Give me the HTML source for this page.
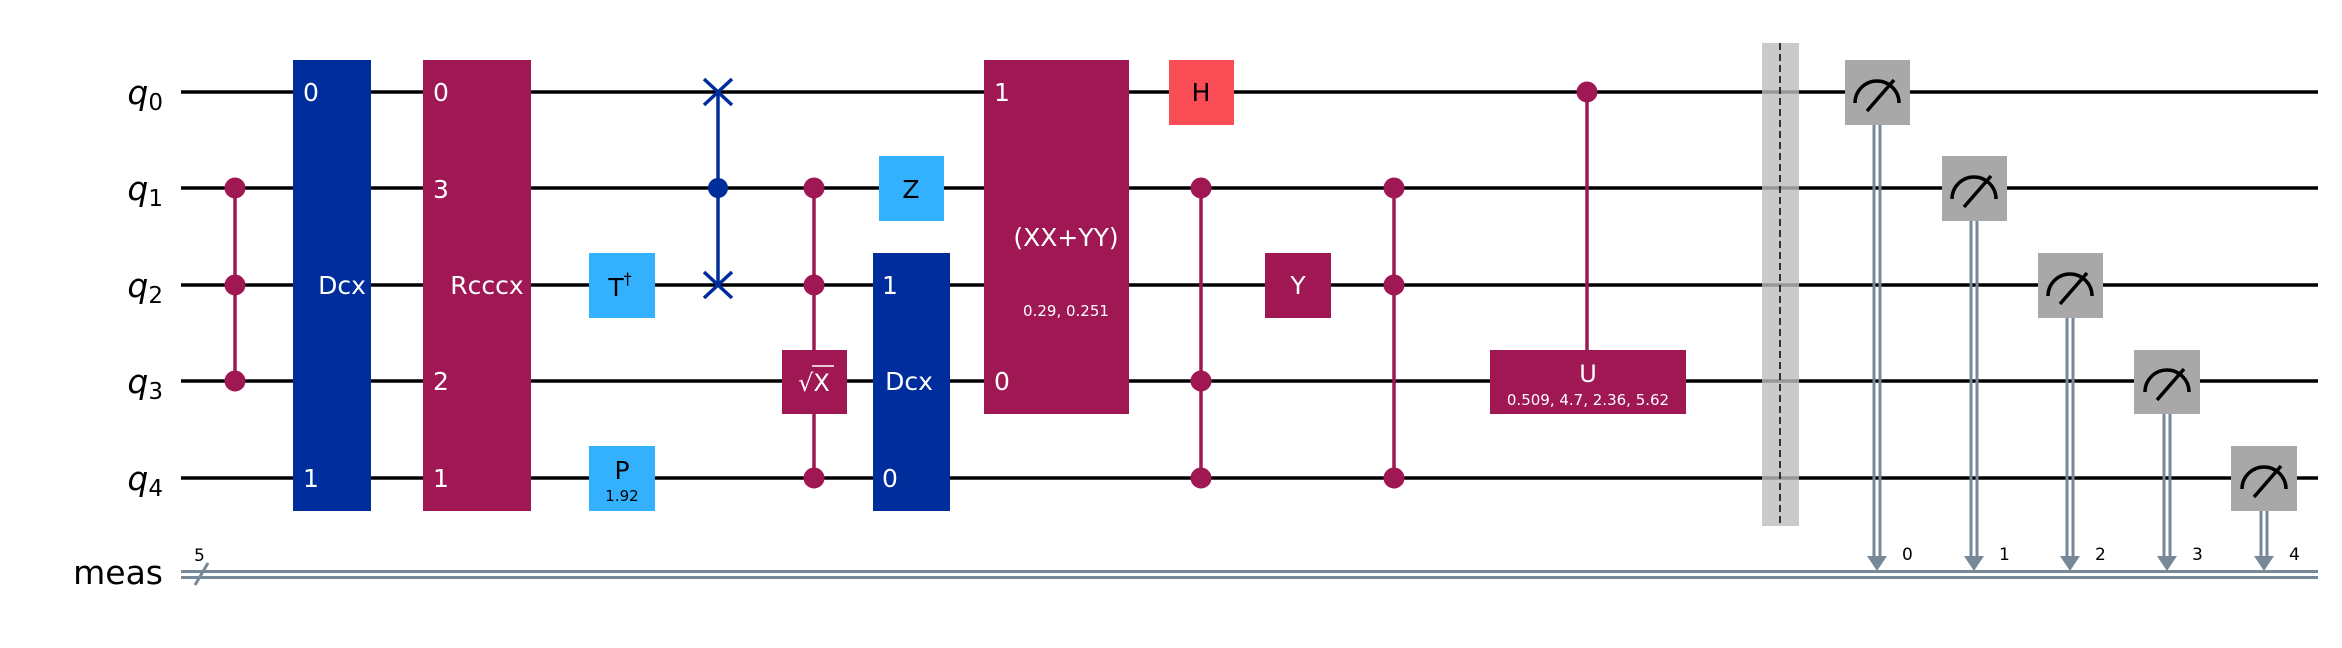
<!DOCTYPE html>
<html><head><meta charset="utf-8"><style>
html,body{margin:0;padding:0;background:#fff;}
svg{display:block;}
text{font-family:"DejaVu Sans","Liberation Sans",sans-serif;}
</style></head><body>
<svg width="2342" height="648" viewBox="0 0 2342 648" xmlns="http://www.w3.org/2000/svg">
<rect width="2342" height="648" fill="#fff"/>
<g stroke="#000" stroke-width="3.5">
<line x1="181" y1="92" x2="2318" y2="92"/>
<line x1="181" y1="188" x2="2318" y2="188"/>
<line x1="181" y1="285" x2="2318" y2="285"/>
<line x1="181" y1="381" x2="2318" y2="381"/>
<line x1="181" y1="478" x2="2318" y2="478"/>
</g>
<g stroke="#778899" stroke-width="3">
<line x1="181" y1="571.5" x2="2318" y2="571.5"/>
<line x1="181" y1="577.5" x2="2318" y2="577.5"/>
<line x1="195" y1="585" x2="208" y2="563"/>
</g>
<text x="194" y="561" font-size="17">5</text>
<g font-size="33" text-anchor="end">
<text x="163" y="104" font-style="italic">q<tspan font-size="23" font-style="normal" dy="6">0</tspan></text>
<text x="163" y="200" font-style="italic">q<tspan font-size="23" font-style="normal" dy="6">1</tspan></text>
<text x="163" y="297" font-style="italic">q<tspan font-size="23" font-style="normal" dy="6">2</tspan></text>
<text x="163" y="393" font-style="italic">q<tspan font-size="23" font-style="normal" dy="6">3</tspan></text>
<text x="163" y="490" font-style="italic">q<tspan font-size="23" font-style="normal" dy="6">4</tspan></text>
<text x="163" y="584">meas</text>
</g>
<g fill="#9f1853" stroke="#9f1853">
<line x1="235" y1="188" x2="235" y2="381" stroke-width="3.5"/>
<circle cx="235" cy="188" r="10"/><circle cx="235" cy="285" r="10"/><circle cx="235" cy="381" r="10"/>
</g>
<rect x="293" y="60" width="78" height="451" fill="#002d9c"/>
<g fill="#fff" font-size="25">
<text x="303" y="101">0</text><text x="303" y="487">1</text>
<text x="342" y="294" text-anchor="middle">Dcx</text>
</g>
<rect x="423" y="60" width="108" height="451" fill="#9f1853"/>
<g fill="#fff" font-size="25">
<text x="433" y="101">0</text><text x="433" y="198">3</text><text x="433" y="390">2</text><text x="433" y="487">1</text>
<text x="487" y="294" text-anchor="middle">Rcccx</text>
</g>
<rect x="589" y="253" width="66" height="65" fill="#33b1ff"/>
<text x="620" y="296" font-size="25" text-anchor="middle">T<tspan font-size="16" dy="-12">†</tspan></text>
<rect x="589" y="446" width="66" height="65" fill="#33b1ff"/>
<text x="622" y="479" font-size="25" text-anchor="middle">P</text>
<text x="622" y="501" font-size="15" text-anchor="middle">1.92</text>
<g stroke="#002d9c" stroke-width="3.5" fill="#002d9c">
<line x1="718" y1="92" x2="718" y2="285"/>
<line x1="704" y1="79" x2="732" y2="105"/><line x1="732" y1="79" x2="704" y2="105"/>
<line x1="704" y1="272" x2="732" y2="298"/><line x1="732" y1="272" x2="704" y2="298"/>
<circle cx="718" cy="188" r="10" stroke="none"/>
</g>
<g fill="#9f1853" stroke="#9f1853">
<line x1="814" y1="188" x2="814" y2="478" stroke-width="3.5"/>
<circle cx="814" cy="188" r="10"/><circle cx="814" cy="285" r="10"/><circle cx="814" cy="478" r="10"/>
</g>
<rect x="782" y="350" width="65" height="64" fill="#9f1853"/>
<text x="814" y="391" font-size="24" fill="#fff" text-anchor="middle">√X</text>
<line x1="812" y1="366" x2="834" y2="366" stroke="#fff" stroke-width="1.5"/>
<rect x="879" y="156" width="65" height="65" fill="#33b1ff"/>
<text x="911" y="198" font-size="25" text-anchor="middle">Z</text>
<rect x="873" y="253" width="77" height="258" fill="#002d9c"/>
<g fill="#fff" font-size="25">
<text x="882" y="294">1</text><text x="882" y="487">0</text>
<text x="909" y="390" text-anchor="middle">Dcx</text>
</g>
<rect x="984" y="60" width="145" height="354" fill="#9f1853"/>
<g fill="#fff">
<text x="994" y="101" font-size="25">1</text><text x="994" y="390" font-size="25">0</text>
<text x="1066" y="246" font-size="25" text-anchor="middle">(XX+YY)</text>
<text x="1066" y="316" font-size="15" text-anchor="middle">0.29, 0.251</text>
</g>
<rect x="1169" y="60" width="65" height="65" fill="#fa4d56"/>
<text x="1201" y="101" font-size="25" text-anchor="middle">H</text>
<g fill="#9f1853" stroke="#9f1853">
<line x1="1201" y1="188" x2="1201" y2="478" stroke-width="3.5"/>
<circle cx="1201" cy="188" r="10"/><circle cx="1201" cy="381" r="10"/><circle cx="1201" cy="478" r="10"/>
</g>
<rect x="1265" y="253" width="66" height="65" fill="#9f1853"/>
<text x="1298" y="294" font-size="25" fill="#fff" text-anchor="middle">Y</text>
<g fill="#9f1853" stroke="#9f1853">
<line x1="1394" y1="188" x2="1394" y2="478" stroke-width="3.5"/>
<circle cx="1394" cy="188" r="10"/><circle cx="1394" cy="285" r="10"/><circle cx="1394" cy="478" r="10"/>
</g>
<g fill="#9f1853" stroke="#9f1853">
<line x1="1587" y1="92" x2="1587" y2="350" stroke-width="3.5"/>
<circle cx="1587" cy="92" r="10"/>
</g>
<rect x="1490" y="350" width="196" height="64" fill="#9f1853"/>
<text x="1588" y="382" font-size="24" fill="#fff" text-anchor="middle">U</text>
<text x="1588" y="405" font-size="15" fill="#fff" text-anchor="middle">0.509, 4.7, 2.36, 5.62</text>
<rect x="1762" y="43" width="37" height="483" fill="#bdbdbd" opacity="0.8"/>
<line x1="1780" y1="43" x2="1780" y2="526" stroke="#000" stroke-width="1.5" stroke-dasharray="7,4"/>
<g stroke="#778899" stroke-width="3" fill="#778899">
<line x1="1874" y1="125" x2="1874" y2="558"/><line x1="1880" y1="125" x2="1880" y2="558"/>
<polygon points="1867,556 1887,556 1877,571" stroke="none"/>
<line x1="1971" y1="221" x2="1971" y2="558"/><line x1="1977" y1="221" x2="1977" y2="558"/>
<polygon points="1964,556 1984,556 1974,571" stroke="none"/>
<line x1="2067" y1="318" x2="2067" y2="558"/><line x1="2073" y1="318" x2="2073" y2="558"/>
<polygon points="2060,556 2080,556 2070,571" stroke="none"/>
<line x1="2164" y1="414" x2="2164" y2="558"/><line x1="2170" y1="414" x2="2170" y2="558"/>
<polygon points="2157,556 2177,556 2167,571" stroke="none"/>
<line x1="2261" y1="511" x2="2261" y2="558"/><line x1="2267" y1="511" x2="2267" y2="558"/>
<polygon points="2254,556 2274,556 2264,571" stroke="none"/>
</g>
<g font-size="17">
<text x="1902" y="560">0</text><text x="1999" y="560">1</text><text x="2095" y="560">2</text><text x="2192" y="560">3</text><text x="2289" y="560">4</text>
</g>
<g fill="#a8a8a8">
<rect x="1845" y="60" width="65" height="65"/>
<rect x="1942" y="156" width="65" height="65"/>
<rect x="2038" y="253" width="65" height="65"/>
<rect x="2134" y="350" width="66" height="64"/>
<rect x="2231" y="446" width="66" height="65"/>
</g>
<g fill="none" stroke="#000" stroke-width="3.5">
<path d="M1855,103 A22,22 0 0 1 1899,103"/><line x1="1867" y1="111" x2="1894" y2="80"/>
<path d="M1952,199 A22,22 0 0 1 1996,199"/><line x1="1964" y1="207" x2="1991" y2="176"/>
<path d="M2048,296 A22,22 0 0 1 2092,296"/><line x1="2060" y1="304" x2="2087" y2="273"/>
<path d="M2145,392 A22,22 0 0 1 2189,392"/><line x1="2157" y1="400" x2="2184" y2="369"/>
<path d="M2242,489 A22,22 0 0 1 2286,489"/><line x1="2254" y1="497" x2="2281" y2="466"/>
</g>
</svg>
</body></html>
